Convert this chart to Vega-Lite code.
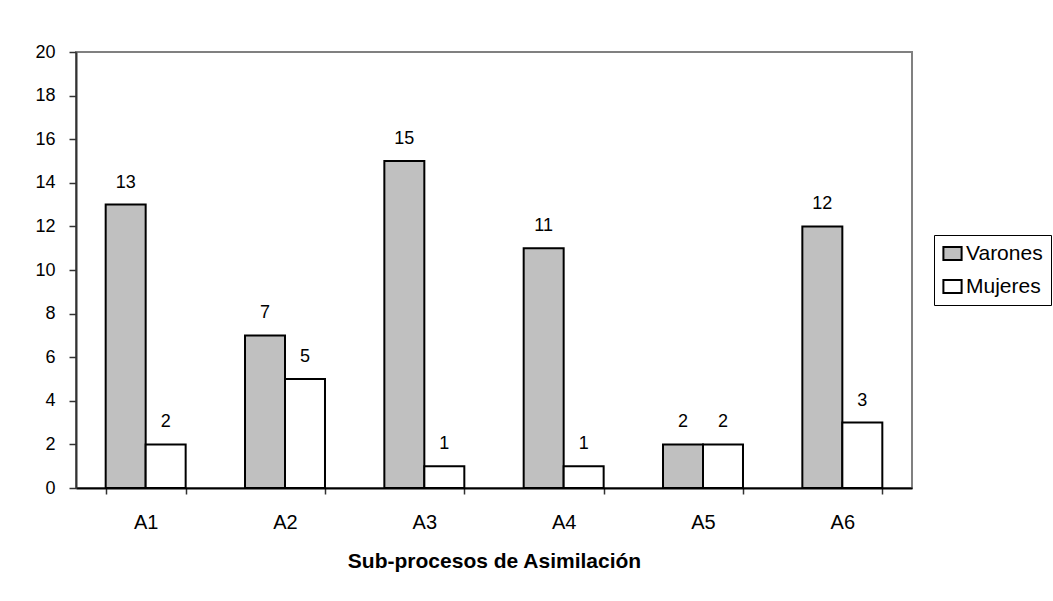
{
  "$schema": "https://vega.github.io/schema/vega-lite/v6.json",
  "width": 836,
  "height": 436,
  "padding": {"left": 76, "top": 52, "right": 141, "bottom": 113},
  "autosize": {"type": "none"},
  "background": "white",
  "config": {
    "font": "Liberation Sans",
    "view": {"stroke": "#808080", "strokeWidth": 2},
    "axis": {"grid": false, "labelFont": "Liberation Sans", "titleFont": "Liberation Sans"}
  },
  "data": {
    "values": [
      {"cat": "A1", "grupo": "Varones", "valor": 13},
      {"cat": "A1", "grupo": "Mujeres", "valor": 2},
      {"cat": "A2", "grupo": "Varones", "valor": 7},
      {"cat": "A2", "grupo": "Mujeres", "valor": 5},
      {"cat": "A3", "grupo": "Varones", "valor": 15},
      {"cat": "A3", "grupo": "Mujeres", "valor": 1},
      {"cat": "A4", "grupo": "Varones", "valor": 11},
      {"cat": "A4", "grupo": "Mujeres", "valor": 1},
      {"cat": "A5", "grupo": "Varones", "valor": 2},
      {"cat": "A5", "grupo": "Mujeres", "valor": 2},
      {"cat": "A6", "grupo": "Varones", "valor": 12},
      {"cat": "A6", "grupo": "Mujeres", "valor": 3}
    ]
  },
  "encoding": {
    "x": {
      "field": "cat",
      "type": "nominal",
      "scale": {"paddingInner": 0.426, "paddingOuter": 0.213},
      "axis": {
        "title": "Sub-procesos de Asimilación",
        "titleFontSize": 21,
        "titleFontWeight": "bold",
        "titleColor": "black",
        "titlePadding": 18,
        "labelAngle": 0,
        "labelFontSize": 20,
        "labelColor": "black",
        "labelBaseline": "alphabetic",
        "labelPadding": 34,
        "tickBand": "extent",
        "tickSize": 6,
        "tickColor": "#333333",
        "tickWidth": 1.5,
        "domainColor": "black",
        "domainWidth": 2
      }
    },
    "xOffset": {"field": "grupo", "type": "nominal", "sort": ["Varones", "Mujeres"], "scale": {"paddingInner": 0, "paddingOuter": 0}},
    "y": {
      "field": "valor",
      "type": "quantitative",
      "scale": {"domain": [0, 20], "nice": false},
      "axis": {
        "title": null,
        "values": [0, 2, 4, 6, 8, 10, 12, 14, 16, 18, 20],
        "labelFontSize": 18,
        "labelColor": "black",
        "labelPadding": 14,
        "tickSize": 7,
        "tickColor": "#333333",
        "tickWidth": 1.5,
        "domainColor": "#333333",
        "domainWidth": 2
      }
    }
  },
  "layer": [
    {
      "mark": {"type": "bar", "stroke": "black", "strokeWidth": 2},
      "encoding": {
        "fill": {
          "field": "grupo",
          "type": "nominal",
          "sort": ["Varones", "Mujeres"],
          "scale": {"domain": ["Varones", "Mujeres"], "range": ["#c0c0c0", "#ffffff"]},
          "legend": {
            "title": null,
            "orient": "none",
            "legendX": 858,
            "legendY": 183,
            "symbolType": "M-1.4,-1H1.4V1H-1.4Z",
            "symbolSize": 169,
            "symbolStrokeColor": "black",
            "symbolStrokeWidth": 2,
            "labelFontSize": 21,
            "labelColor": "black",
            "labelOffset": 3,
            "rowPadding": 11,
            "strokeColor": "black",
            "padding": 8,
            "fillColor": "white"
          }
        }
      }
    },
    {
      "mark": {"type": "text", "baseline": "alphabetic", "dy": -17, "fontSize": 18, "color": "black"},
      "encoding": {"text": {"field": "valor", "type": "quantitative"}}
    }
  ]
}
